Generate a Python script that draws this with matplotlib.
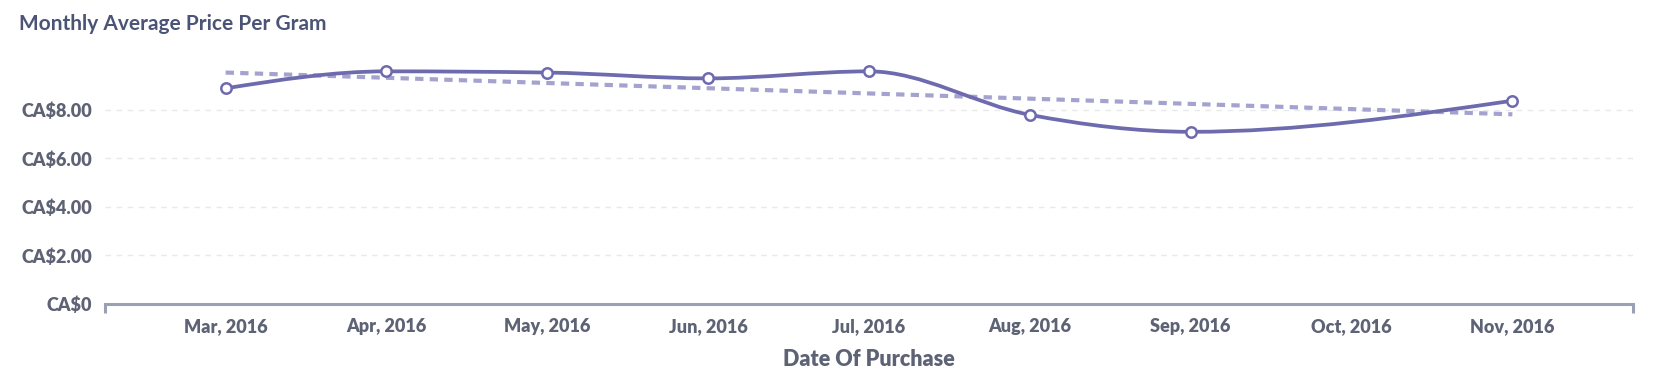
import matplotlib
matplotlib.use("Agg")
import matplotlib.pyplot as plt
from matplotlib.path import Path
from matplotlib.patches import PathPatch
import numpy as np

# ---- data ----
months = ["Mar, 2016", "Apr, 2016", "May, 2016", "Jun, 2016", "Jul, 2016",
          "Aug, 2016", "Sep, 2016", "Oct, 2016", "Nov, 2016"]
price_months = ["Mar, 2016", "Apr, 2016", "May, 2016", "Jun, 2016", "Jul, 2016",
                "Aug, 2016", "Sep, 2016", "Nov, 2016"]
avg_price = [8.88, 9.58, 9.53, 9.29, 9.58, 7.79, 7.09, 8.37]
trend_months = ["Mar, 2016", "Nov, 2016"]
trend_price = [9.53, 7.81]
y_ticks = [0, 2, 4, 6, 8]
y_labels = ["CA$0", "CA$2.00", "CA$4.00", "CA$6.00", "CA$8.00"]

LINE = "#6d6aae"
TREND = "#a4a3cf"
TEXT = "#5d6375"
TITLE = "#4b5477"
AXIS = "#9ca0b5"
GRID = "#e9e9ed"

plt.rcParams["font.family"] = ["Lato", "DejaVu Sans"]

W, H = 1665, 382
fig = plt.figure(figsize=(W / 100, H / 100), dpi=100)
left, right, bottom_px, top_px = 105, 1633, 304, 49
ax = fig.add_axes([left / W, (H - bottom_px) / H, (right - left) / W, (bottom_px - top_px) / H])

idx = {m: i for i, m in enumerate(months)}
xs = np.array([idx[m] for m in price_months], dtype=float)
ys = np.array(avg_price, dtype=float)


def monotone_path(x, y):
    n = len(x)
    h = np.diff(x)
    s = np.diff(y) / h
    t = np.zeros(n)
    for i in range(1, n - 1):
        h0, h1 = h[i - 1], h[i]
        s0, s1 = s[i - 1], s[i]
        p = (s0 * h1 + s1 * h0) / (h0 + h1)
        t[i] = (np.sign(s0) + np.sign(s1)) * min(abs(s0), abs(s1), 0.5 * abs(p))
    t[0] = (3 * s[0] - t[1]) / 2
    t[-1] = (3 * s[-1] - t[-2]) / 2
    verts = [(x[0], y[0])]
    codes = [Path.MOVETO]
    for i in range(n - 1):
        dx = (x[i + 1] - x[i]) / 3
        verts += [(x[i] + dx, y[i] + dx * t[i]),
                  (x[i + 1] - dx, y[i + 1] - dx * t[i + 1]),
                  (x[i + 1], y[i + 1])]
        codes += [Path.CURVE4] * 3
    return Path(verts, codes)


ax.add_patch(PathPatch(monotone_path(xs, ys), facecolor="none", edgecolor=LINE,
                       lw=2.7, capstyle="round", joinstyle="round", zorder=3))

tx = [idx[m] for m in trend_months]
ax.plot(tx, trend_price, color=TREND, lw=3.0, dashes=(2.0, 1.5),
        dash_capstyle="butt", zorder=2)

ax.plot(xs, ys, linestyle="none", marker="o", markersize=7.5,
        markerfacecolor="white", markeredgecolor=LINE, markeredgewidth=1.8, zorder=4)

ax.set_xlim(-0.75, 8.75)
ax.set_ylim(0, 10.5)

ax.set_yticks(y_ticks)
ax.set_yticklabels(y_labels)
ax.set_xticks(range(len(months)))
ax.set_xticklabels(months)

for v in y_ticks[1:]:
    ax.axhline(v, color=GRID, lw=1.0, dashes=(4, 4), zorder=1)

for sp in ["top", "right", "left"]:
    ax.spines[sp].set_visible(False)
ax.spines["bottom"].set_color(AXIS)
ax.spines["bottom"].set_linewidth(2.2)
ax.spines["bottom"].set_capstyle("projecting")

ax.set_xticks([-0.75, 8.75], minor=True)
ax.tick_params(axis="x", which="minor", length=6.5, width=2.2, color=AXIS, direction="out")
ax.tick_params(axis="x", which="major", length=0, pad=10, labelsize=13, labelcolor=TEXT)
ax.tick_params(axis="y", length=0, pad=9, labelsize=13, labelcolor=TEXT)
for lab in ax.get_xticklabels() + ax.get_yticklabels():
    lab.set_fontweight("heavy")

ax.set_xlabel("Date Of Purchase", fontsize=15.5, fontweight="heavy", color=TEXT, labelpad=10)

fig.text(19 / W, 1 - 30 / H, "Monthly Average Price Per Gram", fontsize=15,
         fontweight="bold", color=TITLE, ha="left", va="baseline")

fig.savefig("out.png", dpi=100, facecolor="white")
